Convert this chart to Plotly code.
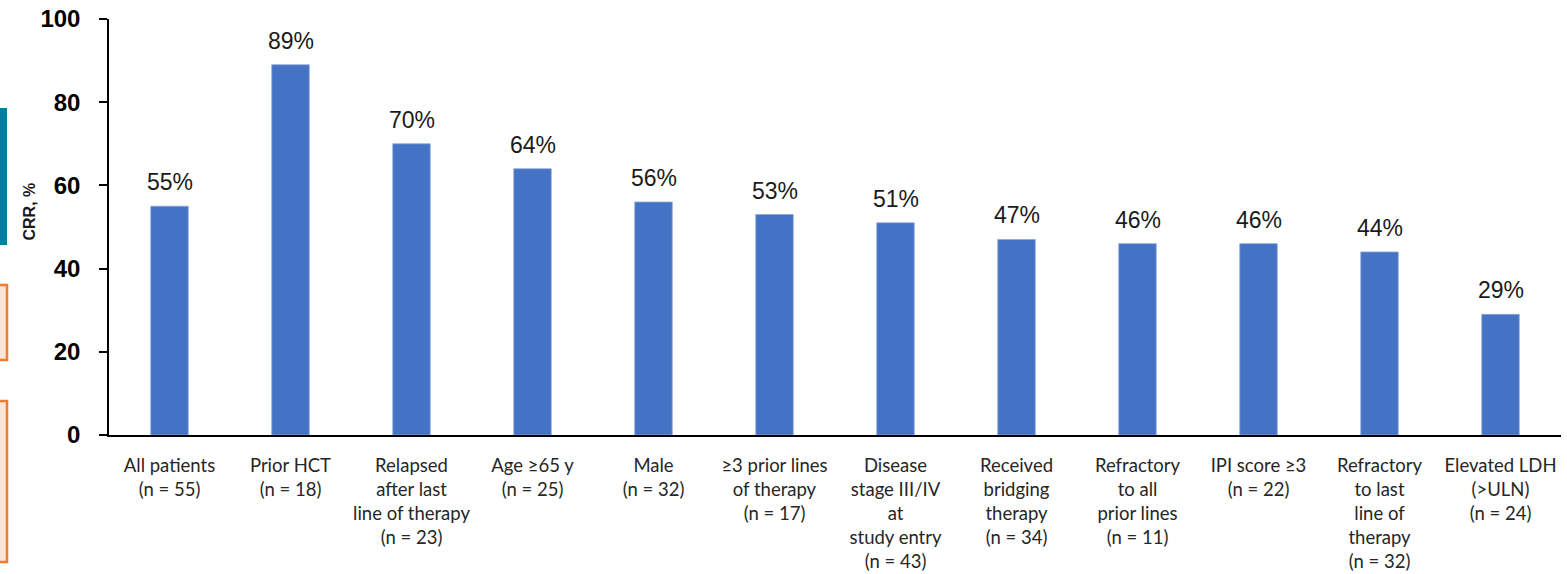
import plotly.graph_objects as go

categories = [
    "All patients<br>(n = 55)",
    "Prior HCT<br>(n = 18)",
    "Relapsed<br>after last<br>line of therapy<br>(n = 23)",
    "Age ≥65 y<br>(n = 25)",
    "Male<br>(n = 32)",
    "≥3 prior lines<br>of therapy<br>(n = 17)",
    "Disease<br>stage III/IV<br>at<br>study entry<br>(n = 43)",
    "Received<br>bridging<br>therapy<br>(n = 34)",
    "Refractory<br>to all<br>prior lines<br>(n = 11)",
    "IPI score ≥3<br>(n = 22)",
    "Refractory<br>to last<br>line of<br>therapy<br>(n = 32)",
    "Elevated LDH<br>(>ULN)<br>(n = 24)",
]
crr_pct = [55, 89, 70, 64, 56, 53, 51, 47, 46, 46, 44, 29]
y_ticks = [0, 20, 40, 60, 80, 100]

BAR_BLUE = "#4472C4"

W, H = 1567, 574
L, R, T, B = 109, 6, 19, 139
pw, ph = W - L - R, H - T - B


def px_x(x):
    """Pixel column -> paper x."""
    return (x - L) / pw


def px_y(y):
    """Pixel row (from top) -> paper y."""
    return (H - B - y) / ph


fig = go.Figure()
fig.add_trace(go.Bar(
    x=list(range(len(categories))),
    y=crr_pct,
    width=0.31,
    marker=dict(color=BAR_BLUE, line=dict(color="#8EA6D6", width=0.8)),
    hoverinfo="skip",
))

# percentage labels above each bar
for i, v in enumerate(crr_pct):
    fig.add_annotation(
        x=i, y=v, text=f"{v}%", showarrow=False,
        xref="x", yref="y", yanchor="bottom", yshift=9,
        font=dict(family="Liberation Sans, Arial", size=23, color="#1a1a1a"),
    )

# y-axis title
fig.add_annotation(
    x=px_x(28.5), y=px_y(212), xref="paper", yref="paper",
    xanchor="center", yanchor="middle",
    text="<b>CRR, %</b>", showarrow=False, textangle=-90,
    font=dict(family="Liberation Sans, Arial", size=16, color="#1a1a1a"),
)

# side decorations at the left edge
fig.add_shape(type="rect", xref="paper", yref="paper",
              x0=px_x(-5), x1=px_x(7), y0=px_y(245), y1=px_y(108),
              fillcolor="#007FA3", line=dict(width=0), layer="above")
fig.add_shape(type="rect", xref="paper", yref="paper",
              x0=px_x(-10), x1=px_x(7), y0=px_y(360), y1=px_y(285),
              fillcolor="#FBE5D6", line=dict(color="#ED7D31", width=2.5), layer="above")
fig.add_shape(type="rect", xref="paper", yref="paper",
              x0=px_x(-10), x1=px_x(7), y0=px_y(562), y1=px_y(401),
              fillcolor="#FBE5D6", line=dict(color="#ED7D31", width=2.5), layer="above")

fig.update_layout(
    width=W, height=H,
    margin=dict(l=L, r=R, t=T, b=B, pad=0, autoexpand=False),
    plot_bgcolor="white", paper_bgcolor="white",
    showlegend=False,
)
fig.update_xaxes(
    range=[-0.5, len(categories) - 0.5],
    tickmode="array", tickvals=list(range(len(categories))), ticktext=categories,
    tickangle=0,
    tickfont=dict(family="Lato", size=18.5, color="#262626"),
    showline=True, linecolor="black", linewidth=2,
    ticks="", showgrid=False, zeroline=False,
    ticklabelstandoff=13, automargin=False,
)
fig.update_yaxes(
    range=[0, 100],
    tickmode="array", tickvals=y_ticks,
    tickfont=dict(family="Liberation Sans, Arial", size=24, color="black", weight="bold"),
    showline=True, linecolor="black", linewidth=1.5,
    ticks="outside", ticklen=8, tickcolor="black", tickwidth=1.5,
    showgrid=False, zeroline=False,
    ticklabelstandoff=14, automargin=False,
)

fig.write_html("out.html")
